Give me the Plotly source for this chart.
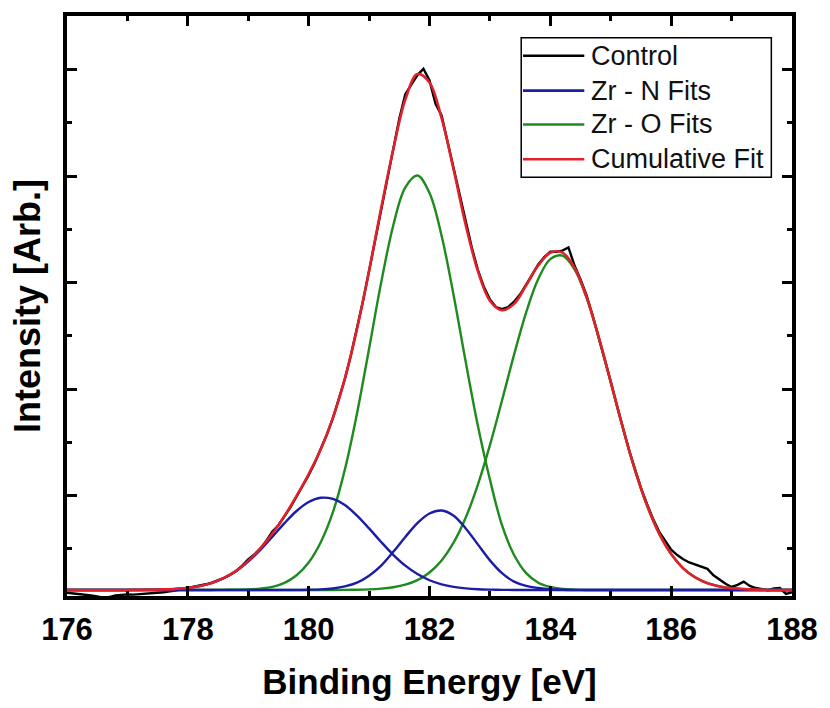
import plotly.graph_objects as go

# ---------------- data ----------------
fit_x = [176.0, 176.2, 176.4, 176.6, 176.8, 177.0, 177.2, 177.4, 177.6, 177.8,
         178.0, 178.2, 178.4, 178.6, 178.8, 179.0, 179.2, 179.4, 179.6, 179.8,
         180.0, 180.2, 180.4, 180.6, 180.8, 181.0, 181.2, 181.4, 181.6, 181.8,
         182.0, 182.2, 182.4, 182.6, 182.8, 183.0, 183.2, 183.4, 183.6, 183.8,
         184.0, 184.2, 184.4, 184.6, 184.8, 185.0, 185.2, 185.4, 185.6, 185.8,
         186.0, 186.2, 186.4, 186.6, 186.8, 187.0, 187.2, 187.4, 187.6, 187.8,
         188.0]

zrn_fit_1 = [0.112, 0.112, 0.112, 0.112, 0.112, 0.112, 0.113, 0.114, 0.117, 0.122,
             0.131, 0.149, 0.178, 0.224, 0.290, 0.379, 0.488, 0.613, 0.740, 0.854,
             0.938, 0.978, 0.967, 0.909, 0.811, 0.690, 0.562, 0.442, 0.340, 0.261,
             0.203, 0.165, 0.141, 0.127, 0.119, 0.115, 0.113, 0.112, 0.112, 0.112,
             0.112, 0.112, 0.112, 0.112, 0.112, 0.112, 0.112, 0.112, 0.112, 0.112,
             0.112, 0.112, 0.112, 0.112, 0.112, 0.112, 0.112, 0.112, 0.112, 0.112,
             0.112]

zrn_fit_2 = [0.112, 0.112, 0.112, 0.112, 0.112, 0.112, 0.112, 0.112, 0.112, 0.112,
             0.112, 0.112, 0.112, 0.112, 0.112, 0.112, 0.112, 0.112, 0.112, 0.112,
             0.114, 0.117, 0.126, 0.145, 0.180, 0.245, 0.340, 0.470, 0.610, 0.740,
             0.830, 0.858, 0.810, 0.690, 0.540, 0.390, 0.270, 0.190, 0.150, 0.130,
             0.118, 0.114, 0.112, 0.112, 0.112, 0.112, 0.112, 0.112, 0.112, 0.112,
             0.112, 0.112, 0.112, 0.112, 0.112, 0.112, 0.112, 0.112, 0.112, 0.112,
             0.112]

zro_fit_1 = [0.112, 0.112, 0.112, 0.112, 0.112, 0.112, 0.112, 0.112, 0.112, 0.112,
             0.112, 0.112, 0.112, 0.113, 0.114, 0.116, 0.124, 0.140, 0.178, 0.250,
             0.370, 0.560, 0.840, 1.245, 1.770, 2.379, 3.000, 3.537, 3.895, 4.006,
             3.842, 3.441, 2.879, 2.253, 1.657, 1.149, 0.720, 0.440, 0.270, 0.180,
             0.140, 0.122, 0.115, 0.112, 0.112, 0.112, 0.112, 0.112, 0.112, 0.112,
             0.112, 0.112, 0.112, 0.112, 0.112, 0.112, 0.112, 0.112, 0.112, 0.112,
             0.112]

zro_fit_2 = [0.112, 0.112, 0.112, 0.112, 0.112, 0.112, 0.112, 0.112, 0.112, 0.112,
             0.112, 0.112, 0.112, 0.112, 0.112, 0.112, 0.112, 0.112, 0.112, 0.112,
             0.112, 0.112, 0.112, 0.113, 0.114, 0.117, 0.124, 0.137, 0.161, 0.204,
             0.276, 0.389, 0.558, 0.793, 1.100, 1.472, 1.892, 2.323, 2.720, 3.033,
             3.220, 3.253, 3.125, 2.858, 2.488, 2.065, 1.636, 1.241, 0.907, 0.643,
             0.449, 0.315, 0.229, 0.175, 0.145, 0.128, 0.120, 0.115, 0.112, 0.112,
             0.112]

cumulative_fit = [0.112, 0.112, 0.112, 0.112, 0.112, 0.112, 0.113, 0.114, 0.117, 0.122,
                  0.131, 0.149, 0.178, 0.225, 0.291, 0.385, 0.502, 0.642, 0.808, 0.995,
                  1.200, 1.433, 1.726, 2.100, 2.565, 3.110, 3.700, 4.250, 4.720, 4.960,
                  4.880, 4.545, 4.060, 3.540, 3.110, 2.830, 2.740, 2.800, 2.975, 3.160,
                  3.280, 3.282, 3.140, 2.862, 2.489, 2.065, 1.636, 1.241, 0.907, 0.643,
                  0.449, 0.315, 0.229, 0.175, 0.145, 0.128, 0.120, 0.115, 0.112, 0.112,
                  0.112]

control_x = [176.0, 176.1, 176.2, 176.3, 176.4, 176.5, 176.6, 176.7, 176.8, 176.9,
             177.0, 177.1, 177.2, 177.3, 177.4, 177.5, 177.6, 177.7, 177.8, 177.9,
             178.0, 178.1, 178.2, 178.3, 178.4, 178.5, 178.6, 178.7, 178.8, 178.9,
             179.0, 179.1, 179.2, 179.3, 179.4, 179.5, 179.6, 179.7, 179.8, 179.9,
             180.0, 180.1, 180.2, 180.3, 180.4, 180.5, 180.6, 180.7, 180.8, 180.9,
             181.0, 181.1, 181.2, 181.3, 181.4, 181.5, 181.6, 181.7, 181.8, 181.9,
             182.0, 182.1, 182.2, 182.3, 182.4, 182.5, 182.6, 182.7, 182.8, 182.9,
             183.0, 183.1, 183.2, 183.3, 183.4, 183.5, 183.6, 183.7, 183.8, 183.9,
             184.0, 184.1, 184.2, 184.3, 184.4, 184.5, 184.6, 184.7, 184.8, 184.9,
             185.0, 185.1, 185.2, 185.3, 185.4, 185.5, 185.6, 185.7, 185.8, 185.9,
             186.0, 186.1, 186.2, 186.3, 186.4, 186.5, 186.6, 186.7, 186.8, 186.9,
             187.0, 187.1, 187.2, 187.3, 187.4, 187.5, 187.6, 187.7, 187.8, 187.9,
             188.0]

control_y = [0.085, 0.080, 0.075, 0.070, 0.060, 0.050, 0.040, 0.045, 0.060, 0.065,
             0.070, 0.068, 0.072, 0.080, 0.078, 0.085, 0.090, 0.100, 0.105, 0.120,
             0.130, 0.140, 0.152, 0.165, 0.180, 0.200, 0.225, 0.255, 0.290, 0.340,
             0.400, 0.445, 0.500, 0.575, 0.660, 0.720, 0.800, 0.890, 0.990, 1.090,
             1.190, 1.305, 1.430, 1.570, 1.725, 1.905, 2.095, 2.320, 2.560, 2.830,
             3.110, 3.400, 3.700, 3.990, 4.270, 4.540, 4.770, 4.860, 4.950, 5.010,
             4.900, 4.680, 4.570, 4.320, 4.070, 3.810, 3.560, 3.330, 3.120, 2.960,
             2.840, 2.770, 2.750, 2.770, 2.820, 2.890, 2.980, 3.080, 3.170, 3.240,
             3.290, 3.290, 3.300, 3.330, 3.160, 3.030, 2.880, 2.690, 2.490, 2.280,
             2.070, 1.850, 1.640, 1.430, 1.250, 1.070, 0.920, 0.780, 0.660, 0.570,
             0.490, 0.440, 0.400, 0.370, 0.350, 0.330, 0.310, 0.250, 0.210, 0.170,
             0.140, 0.160, 0.190, 0.150, 0.130, 0.120, 0.110, 0.125, 0.130, 0.075,
             0.090]

x_tick_vals = [176, 178, 180, 182, 184, 186, 188]
x_tick_text = ["176", "178", "180", "182", "184", "186", "188"]

legend_names = ["Control", "Zr - N Fits", "Zr - O Fits", "Cumulative Fit"]
legend_colors = ["#000000", "#1c1ca6", "#1f8a1f", "#e0202a"]

# ---------------- figure ----------------
FONT = "Liberation Sans, Arial, Helvetica, sans-serif"
C_BLACK, C_BLUE, C_GREEN, C_RED = legend_colors

fig = go.Figure()
fig.add_trace(go.Scatter(x=control_x, y=control_y, mode="lines", name="Control",
                         line=dict(color=C_BLACK, width=2.4)))
fig.add_trace(go.Scatter(x=fit_x, y=zro_fit_1, mode="lines", name="Zr - O Fits",
                         line=dict(color=C_GREEN, width=2.4, shape="spline")))
fig.add_trace(go.Scatter(x=fit_x, y=zro_fit_2, mode="lines", name="Zr - O Fits",
                         line=dict(color=C_GREEN, width=2.4, shape="spline")))
fig.add_trace(go.Scatter(x=fit_x, y=zrn_fit_1, mode="lines", name="Zr - N Fits",
                         line=dict(color=C_BLUE, width=2.4, shape="spline")))
fig.add_trace(go.Scatter(x=fit_x, y=zrn_fit_2, mode="lines", name="Zr - N Fits",
                         line=dict(color=C_BLUE, width=2.4, shape="spline")))
fig.add_trace(go.Scatter(x=fit_x, y=cumulative_fit, mode="lines", name="Cumulative Fit",
                         line=dict(color=C_RED, width=2.6, shape="spline")))

axis_common = dict(
    showline=True, linecolor="black", linewidth=4, mirror="allticks",
    ticks="inside", ticklen=10, tickwidth=3, tickcolor="black",
    showgrid=False, zeroline=False,
)

fig.update_xaxes(
    range=[176, 188], tickvals=x_tick_vals, ticktext=x_tick_text,
    minor=dict(dtick=1, tick0=176, ticks="inside", ticklen=5, tickwidth=3,
               tickcolor="black", showgrid=False),
    tickfont=dict(family=FONT, size=31, color="black", weight="bold"),
    ticklabelstandoff=3,
    title=dict(text="Binding Energy [eV]", standoff=24,
               font=dict(family=FONT, size=35, color="black", weight="bold")),
    **axis_common,
)
fig.update_yaxes(
    range=[0.055, 5.505], tick0=0, dtick=1, showticklabels=False,
    minor=dict(dtick=0.5, tick0=0, ticks="inside", ticklen=5, tickwidth=3,
               tickcolor="black", showgrid=False),
    title=dict(text="Intensity [Arb.]", standoff=12,
               font=dict(family=FONT, size=36, color="black", weight="bold")),
    **axis_common,
)

# legend box drawn in the upper right (paper coordinates of the plot area)
box_x0, box_x1, box_y0, box_y1 = 0.6265, 0.9715, 0.722, 0.9625
fig.add_shape(type="rect", xref="paper", yref="paper", x0=box_x0, x1=box_x1,
              y0=box_y0, y1=box_y1, line=dict(color="black", width=1.5),
              fillcolor="white", layer="above")
row_y = [0.9314, 0.8714, 0.8130, 0.7530]
for name, col, yy in zip(legend_names, legend_colors, row_y):
    fig.add_shape(type="line", xref="paper", yref="paper", x0=0.6290, x1=0.7135,
                  y0=yy, y1=yy, line=dict(color=col, width=2.6), layer="above")
    fig.add_annotation(xref="paper", yref="paper", x=0.7205, y=yy, text=name,
                       showarrow=False, xanchor="left", yanchor="middle",
                       font=dict(family=FONT, size=27, color="#111111"))

fig.update_layout(
    width=830, height=708,
    margin=dict(l=67, r=30, t=13, b=112),
    plot_bgcolor="white", paper_bgcolor="white",
    showlegend=False,
)

fig.write_html("out.html")
